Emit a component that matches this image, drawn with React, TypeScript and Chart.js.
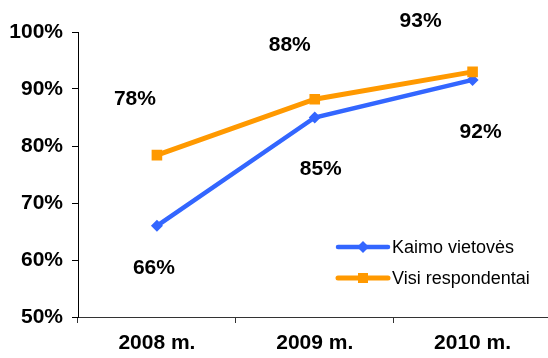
import React, { useEffect, useRef } from "react";
import { Chart, registerables } from "chart.js";

Chart.register(...registerables);

const categories = ["2008 m.", "2009 m.", "2010 m."];
const seriesNames = ["Kaimo vietovės", "Visi respondentai"];
const ruralValues = [66.0, 85.0, 91.6];
const allValues = [78.4, 88.2, 93.0];
const yTicks = [50, 60, 70, 80, 90, 100];

const FONT = "'Liberation Sans', Arial, sans-serif";
const BLUE = "#3366FF";
const ORANGE = "#FF9900";

// label placement relative to each point (dx, dy of label centre)
const labelOffsets: Record<number, [number, number][]> = {
  0: [[-3, 41], [6, 50], [8, 51]],
  1: [[-22, -58], [-25, -56], [-52, -52]],
};

const valueLabels = {
  id: "valueLabels",
  afterDatasetsDraw(chart: any) {
    const ctx = chart.ctx;
    ctx.save();
    ctx.font = `bold 21px ${FONT}`;
    ctx.fillStyle = "#000";
    ctx.textAlign = "center";
    ctx.textBaseline = "alphabetic";
    chart.data.datasets.forEach((ds: any, di: number) => {
      const meta = chart.getDatasetMeta(di);
      meta.data.forEach((pt: any, i: number) => {
        const [dx, dy] = labelOffsets[di][i];
        const txt = `${Math.round(ds.data[i])}%`;
        ctx.fillText(txt, pt.x + dx, pt.y + dy + 7.5);
      });
    });
    ctx.restore();
  },
};

const sideLegend = {
  id: "sideLegend",
  afterDraw(chart: any) {
    const ctx = chart.ctx;
    ctx.save();
    ctx.font = `18px ${FONT}`;
    ctx.textBaseline = "middle";
    ctx.textAlign = "left";
    chart.data.datasets.forEach((ds: any, di: number) => {
      const y = 247 + di * 31;
      const x0 = 338;
      const x1 = 388;
      ctx.strokeStyle = ds.borderColor;
      ctx.lineWidth = ds.borderWidth;
      ctx.lineCap = "round";
      ctx.beginPath();
      ctx.moveTo(x0, y);
      ctx.lineTo(x1, y);
      ctx.stroke();
      ctx.fillStyle = ds.backgroundColor;
      const cx = (x0 + x1) / 2;
      if (ds.pointStyle === "rectRot") {
        ctx.beginPath();
        ctx.moveTo(cx, y - 6);
        ctx.lineTo(cx + 6, y);
        ctx.lineTo(cx, y + 6);
        ctx.lineTo(cx - 6, y);
        ctx.closePath();
        ctx.fill();
      } else {
        ctx.fillRect(cx - 5, y - 5, 10, 10);
      }
      ctx.fillStyle = "#000";
      ctx.fillText(ds.label, x1 + 4, y + 1);
    });
    ctx.restore();
  },
};

export default function App() {
  const ref = useRef<HTMLCanvasElement>(null);

  useEffect(() => {
    if (!ref.current) return;
    const chart = new Chart(ref.current, {
      type: "line",
      data: {
        labels: categories,
        datasets: [
          {
            label: seriesNames[0],
            data: ruralValues,
            borderColor: BLUE,
            backgroundColor: BLUE,
            borderWidth: 4.5,
            pointStyle: "rectRot",
            pointRadius: 6,
            pointBorderWidth: 0,
            tension: 0,
            order: 2,
          },
          {
            label: seriesNames[1],
            data: allValues,
            borderColor: ORANGE,
            backgroundColor: ORANGE,
            borderWidth: 5,
            pointStyle: "rect",
            pointRadius: 7.5,
            pointBorderWidth: 0,
            tension: 0,
            order: 1,
          },
        ],
      },
      options: {
        responsive: false,
        animation: false,
        devicePixelRatio: 1,
        layout: { padding: { top: 32, right: 0, left: 0, bottom: 0 } },
        plugins: {
          legend: { display: false },
          tooltip: { enabled: false },
        },
        scales: {
          x: {
            offset: true,
            grid: {
              offset: true,
              drawOnChartArea: false,
              drawTicks: true,
              tickLength: 6,
              color: "#333",
            },
            border: { color: "#333", width: 1 },
            ticks: {
              color: "#000",
              font: { family: FONT, size: 21, weight: "bold" },
              padding: 8,
              maxRotation: 0,
            },
            afterFit: (s: any) => {
              s.height = 41;
              s.paddingLeft = 0;
              s.paddingRight = 0;
            },
          },
          y: {
            min: 50,
            max: 100,
            afterBuildTicks: (s: any) => {
              s.ticks = yTicks.map((v) => ({ value: v }));
            },
            grid: {
              drawOnChartArea: false,
              drawTicks: true,
              tickLength: 6,
              color: "#000",
            },
            border: { color: "#000", width: 1 },
            ticks: {
              color: "#000",
              font: { family: FONT, size: 21, weight: "bold" },
              padding: 9,
              callback: (v: any) => `${v}%`,
            },
            afterFit: (s: any) => {
              s.width = 78;
              s.paddingTop = 0;
              s.paddingBottom = 0;
            },
          },
        },
      },
      plugins: [valueLabels, sideLegend],
    });
    return () => chart.destroy();
  }, []);

  return (
    <div
      style={{
        position: "fixed",
        left: 0,
        top: 0,
        width: 548,
        height: 358,
        overflow: "hidden",
        background: "#fff",
      }}
    >
      <canvas ref={ref} width={559} height={358} style={{ display: "block" }} />
    </div>
  );
}
